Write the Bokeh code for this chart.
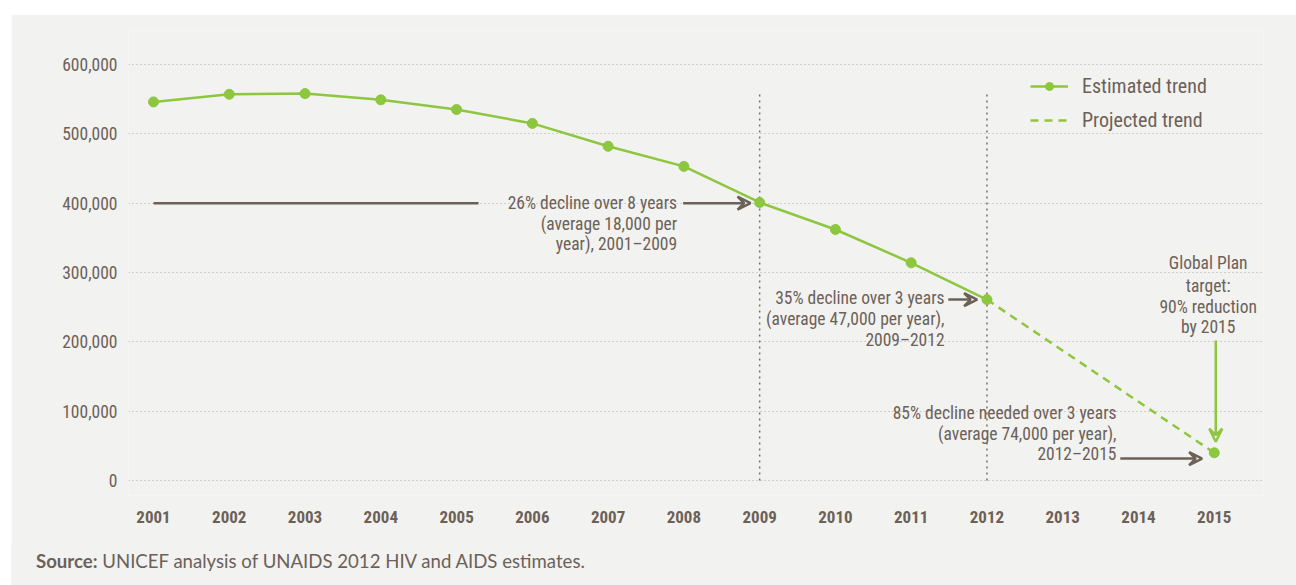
from bokeh.plotting import figure
from bokeh.models import (ColumnDataSource, FixedTicker, NumeralTickFormatter, Arrow,
                          VeeHead, Legend, LegendItem, Div)
from bokeh.layouts import column
from bokeh.core.properties import value
from bokeh.embed import file_html
from bokeh.resources import INLINE

# ---- data ----
est_years = [2001, 2002, 2003, 2004, 2005, 2006, 2007, 2008, 2009, 2010, 2011, 2012]
est_values = [546000, 557000, 558000, 549000, 535000, 515000, 482000, 453000, 401000, 362000, 314000, 261000]
proj_years = [2012, 2015]
proj_values = [261000, 40000]
target_years = [2015]
target_values = [40000]
x_ticks = list(range(2001, 2016))
y_ticks = [0, 100000, 200000, 300000, 400000, 500000, 600000]
vline_years = [2009, 2012]
vline_top = 562000

# annotation texts
ann1 = ["26% decline over 8 years", "(average 18,000 per", "year), 2001\u20132009"]
ann2 = ["35% decline over 3 years", "(average 47,000 per year),", "2009\u20132012"]
ann3 = ["Global Plan", "target:", "90% reduction", "by 2015"]
ann4 = ["85% decline needed over 3 years", "(average 74,000 per year),", "2012\u20132015"]
source_bold = "Source:"
source_text = "UNICEF analysis of UNAIDS 2012 HIV and AIDS estimates."

GREEN = "#8dc63f"
BROWN = "#6c6158"
BG = "#f2f2f0"
FONT = "Roboto Condensed"

p = figure(width=1285, height=531, output_backend="svg", toolbar_location=None,
           x_range=(2000.67, 2015.65), y_range=(-21600, 649000),
           min_border_left=117, min_border_right=33, min_border_top=16, min_border_bottom=50)
p.margin = (14, 0, 0, 11)
p.background_fill_color = BG
p.border_fill_color = BG
p.outline_line_color = None

p.xgrid.grid_line_color = None
p.ygrid.ticker = FixedTicker(ticks=y_ticks)
p.ygrid.grid_line_color = "#b0aba5"
p.ygrid.grid_line_dash = "1 3"
p.ygrid.grid_line_width = 1

for ax in (p.xaxis[0], p.yaxis[0]):
    ax.axis_line_color = None
    ax.major_tick_line_color = None
    ax.minor_tick_line_color = None
    ax.major_label_text_color = BROWN
    ax.major_label_text_font = FONT

p.xaxis.ticker = FixedTicker(ticks=x_ticks)
p.xaxis.major_label_text_font_size = "17px"
p.xaxis.major_label_text_font_style = "bold"
p.xaxis.major_label_standoff = 9
p.yaxis.ticker = FixedTicker(ticks=y_ticks)
p.yaxis.formatter = NumeralTickFormatter(format="0,0")
p.yaxis.major_label_text_font_size = "17.5px"
p.yaxis.major_label_standoff = 5

# vertical dotted reference lines
p.segment(x0=vline_years, y0=[0] * len(vline_years), x1=vline_years, y1=[vline_top] * len(vline_years),
          line_color="#7a7068", line_dash="2 4", line_width=1.5)

# 2001-2005 reference line at 400,000
p.segment(x0=[est_years[0]], y0=[est_values[8] - 1000], x1=[2005.29], y1=[est_values[8] - 1000],
          line_color=BROWN, line_width=2.5)

# trend lines
est_line = p.line(est_years, est_values, line_color=GREEN, line_width=2.5)
est_pts = p.scatter(est_years, est_values, size=10, fill_color=GREEN, line_color=GREEN)
proj_line = p.line(proj_years, proj_values, line_color=GREEN, line_width=2.5, line_dash="8 6")
p.scatter(target_years, target_values, size=10, fill_color=GREEN, line_color=GREEN)

# arrows
def arrow(x0, y0, x1, y1, color):
    p.add_layout(Arrow(x_start=x0, y_start=y0, x_end=x1, y_end=y1, line_color=color, line_width=2.5,
                       end=VeeHead(size=13, line_color=color, line_width=2.5, fill_alpha=0)))

arrow(2007.99, 400000, 2008.88, 400000, BROWN)
arrow(2011.49, 261000, 2011.87, 261000, BROWN)
arrow(2013.76, 31700, 2014.84, 31700, BROWN)
arrow(2015.02, 202000, 2015.02, 56000, GREEN)

# annotation texts
def block(lines, x, y, offsets, align):
    src = ColumnDataSource(dict(x=[x] * len(lines), y=[y] * len(lines), text=lines, yo=offsets))
    p.text(x="x", y="y", text="text", y_offset="yo", source=src, text_align=align,
           text_baseline="middle", text_color=BROWN, text_font=value(FONT), text_font_size="17.5px")

block(ann1, 2007.91, 400000, [0, 21, 41], "right")
block(ann2, 2011.44, 261000, [-2, 19, 40], "right")
block(ann3, 2014.92, 313000, [0, 23, 44, 64], "center")
block(ann4, 2013.71, 31700, [-46, -25, -5], "right")

# legend
legend = Legend(items=[LegendItem(label="Estimated trend", renderers=[est_line, est_pts]),
                       LegendItem(label="Projected trend", renderers=[proj_line])],
                location=(902, 363), orientation="vertical",
                label_text_font=FONT, label_text_font_size="20px", label_text_color=BROWN,
                glyph_width=38, glyph_height=20, label_standoff=14, spacing=10,
                padding=0, margin=0, background_fill_alpha=0, border_line_color=None)
p.add_layout(legend)

# source line
src_div = Div(text=f"<b>{source_bold}</b> {source_text}", width=1285, height=40, margin=(0, 0, 0, 11),
              styles={"font-family": "Lato", "font-size": "18.6px", "color": BROWN,
                      "background-color": BG, "padding-left": "25px", "padding-top": "3px",
                      "box-sizing": "border-box"})

layout = column(p, src_div, spacing=0)
open("out.html", "w").write(file_html(layout, INLINE))
